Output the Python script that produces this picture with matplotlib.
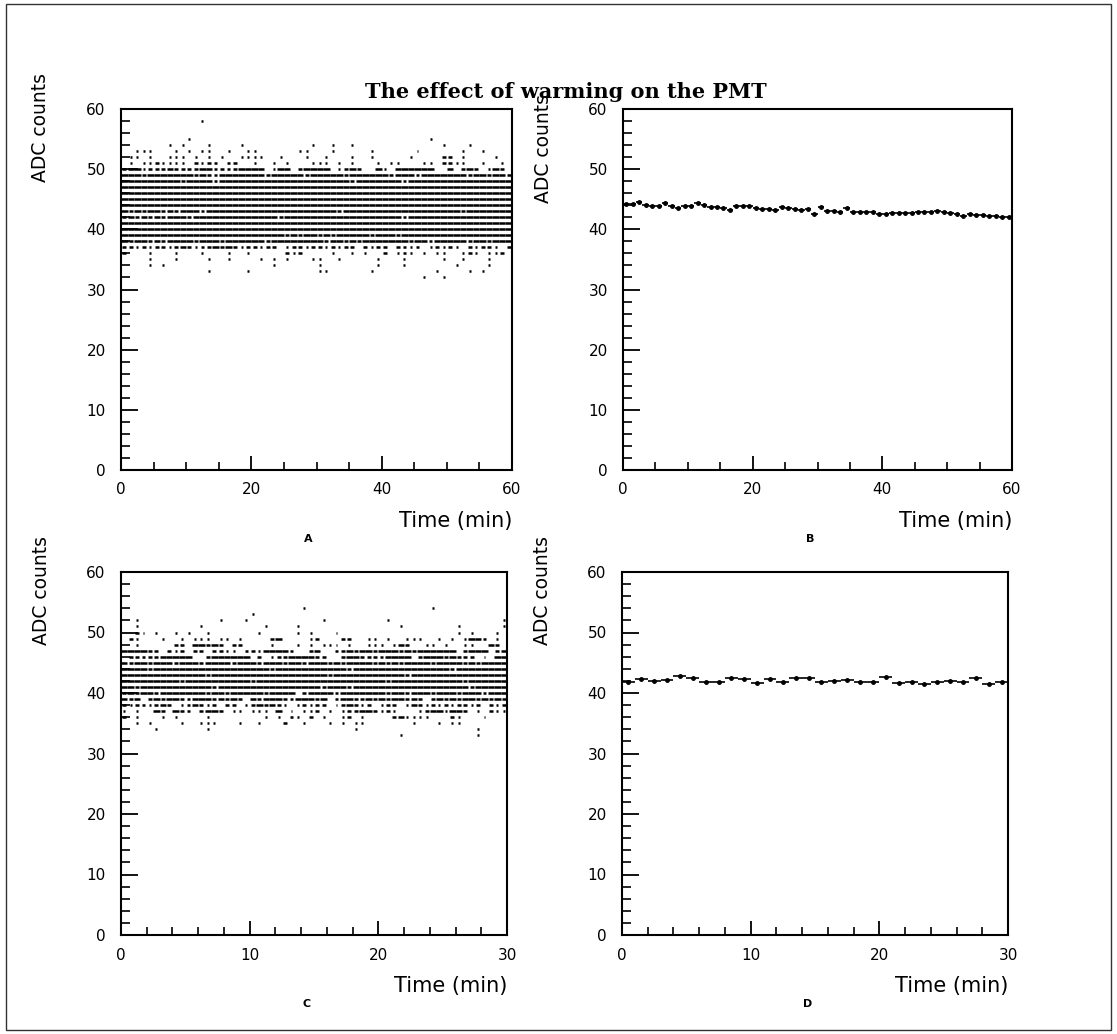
import matplotlib
matplotlib.use("Agg")
import matplotlib.pyplot as plt
from matplotlib.patches import Rectangle
from matplotlib.ticker import MultipleLocator

# Raw ADC hits, one row per integer ADC value.
# Each row has 60 time bins: ' ' no hit, '.' a single hit, '-' partly filled, '=' filled.
FULL = "=" * 60

a_levels = [58, 55, 54, 53, 52, 51, 50, 49, 48, 47, 46, 45, 44, 43, 42, 41,
            40, 39, 38, 37, 36, 35, 34, 33, 32]
a_rows = [
    "          |  .       |          |          |          |          ",
    "          |.         |          |          |       .  |          ",
    "       . .|   .    . |         .|  .  .    |         .|   .      ",
    "  ...   . |. ..  .  .|.      .. |  .     . |     .    |  .  .    ",
    " .. .  ...| . . .  ..|..  .   . | .   .  . |    .    -|- .    .  ",
    " . ..-....| -.-- --  |.  . .   .|.. . .   .| ..   .. -|-..  .  . ",
    "-==.---=--|--==----==|== .== -==|== .-=-  =|. ======  |= -=- .=- ",
    "===-======|=-=--=====|==-=====-=|====-=====|=-===-====|===-==-==-",
    "=========-|====-=====|==========|=====-====|===-======|==========",
    FULL, FULL, FULL, FULL,
    "=-=-==-=-=|==-=======|==========|===-======|==========|==-=======",
    "-=-=-=-===|-=========|====-=====|==========|===-======|==========",
    FULL, FULL,
    "==========|==========|=====-=-==|-=-=====-=|==-=======|==========",
    "=-==-=-===|=-===-====|==-=======|=-==-=-===|====-==-==|===-==-===",
    "--.-.--.-=|-.--=-=-.-|-.-- .--.-|-.-.-- -.-|- --.- .-.|-. -.--. -",
    "-   .   . |  .   .  .|     -.-  |  .  . .  |- .-. . ..|  .-. ..- ",
    "    .   . |   .  .   | . . .   .|.  .     .|   .     .|  .   .   ",
    "    . .   |          |   .      |.        .|   .      | .    .   ",
    "          |   .     .|          |..      . |        . |   . .    ",
    "          |          |          |          |      .  .|          ",
]

c_levels = [54, 53, 52, 51, 50, 49, 48, 47, 46, 45, 44, 43, 42, 41, 40,
            39, 38, 37, 36, 35, 34, 33]
c_rows = [
    "          |          |        . |          |        . |          ",
    "          |          |.         |          |          |          ",
    "  .       |     .   .|          | .        | .        |         .",
    "  .       |  .       |  .    .  |          |   .      |  .      .",
    "  -. .  . |.  .      | .     . .|   .      |          |  . .   . ",
    " -.   .  .| ... .. . |   -=    .|-   --  ..| .  ...  .| . .==- . ",
    "  .     --| ==-=- -- |   .   . .| ... .  ..|. .=-  .. |.  ..  =- ",
    "====-- -.-| -- --.. -|-.====-  -|=  --=-==-|===-=-====|== -=== -=",
    " -----====|=  -======| - .--====|--  -==---|-==== -===|-=--- . ==",
    "=-==-===-=|==-====-==|=-===-==-=|==-=-====-|=-=-====-=|===-=-====",
    "====-=====|==========|===-======|=====-====|==========|=-========",
    "==========|===-======|==========|==-=======|====-=====|==========",
    "=========-|==========|-=========|==========|=-========|===-======",
    "==-=======|====-=====|==========|=-===-====|==========|====-=====",
    "-=-==-====|===-==-===|==-==== -=|===-======|=-==-===-=|==-===-===",
    "=-= -=-==-|-===-=-=- |=-===--===|-= -==--=-|=-==-=- -=|-=-==-=-=-",
    "-.--.-=- .|-=-.- -- .|-=-=-. .-.|-- .-=-.- |.-- .=-.-.|-.--.- -.-",
    ". .  =- =-|- -==- .. |... = . ..|- . .--==-|.-.   .-==|.==- . -..",
    "- .   . . |   .      |  . . -. -| .  .- .  |  -=....  | -.   .   ",
    "  . .    .|  ...   . | .   -  . |  . . ..  |     .   .| ..       ",
    "     .    |   .      |          |      .   |          |     .    ",
    "          |          |          |          |   .      |     .    ",
]

# Profile of the same runs: mean ADC per 1-minute bin
b_time = [i + 0.5 for i in range(60)]
b_mean = [44.2, 44.2, 44.5, 44.0, 43.8, 43.8, 44.3, 43.9, 43.5, 43.8,
          43.9, 44.4, 44.1, 43.7, 43.7, 43.6, 43.2, 43.8, 43.8, 43.9,
          43.5, 43.4, 43.3, 43.2, 43.7, 43.5, 43.3, 43.2, 43.3, 42.5,
          43.7, 43.1, 43.0, 42.9, 43.5, 42.8, 42.8, 42.9, 42.9, 42.5,
          42.5, 42.7, 42.7, 42.7, 42.7, 42.9, 42.9, 42.9, 43.0, 42.9,
          42.7, 42.5, 42.2, 42.5, 42.4, 42.3, 42.2, 42.2, 42.1, 42.0]

d_time = [i + 0.5 for i in range(30)]
d_mean = [41.9, 42.3, 42.0, 42.2, 42.8, 42.4, 41.9, 41.9, 42.4, 42.3,
          41.7, 42.3, 41.9, 42.4, 42.4, 41.8, 42.0, 42.2, 41.9, 41.8,
          42.6, 41.7, 41.9, 41.5, 41.9, 42.0, 41.8, 42.5, 41.5, 41.9]

W, H = 1117, 1034
plt.rcParams['font.family'] = ['DejaVu Sans']

fig = plt.figure(figsize=(W / 100, H / 100), dpi=100)


def box(l, r, t, b):
    return [l / W, 1 - b / H, (r - l) / W, (b - t) / H]


def draw_hits(ax, levels, rows, t_max):
    nbin = 60
    w = t_max / nbin
    frac = {'.': 0.3, '-': 0.6, '=': 1.0}
    for lev, row in zip(levels, rows):
        cells = row.replace('|', '').ljust(nbin)[:nbin]
        x0, x1 = [], []
        for i, c in enumerate(cells):
            if c in frac:
                mid = (i + 0.5) * w
                half = frac[c] * w / 2
                x0.append(mid - half)
                x1.append(mid + half)
        ax.hlines([lev] * len(x0), x0, x1, colors='k', lw=1.8, capstyle='butt')


def style(ax, t_max, x_major, x_minor, letter, ylab_y=0.95):
    ax.set_xlim(0, t_max)
    ax.set_ylim(0, 60)
    ax.xaxis.set_major_locator(MultipleLocator(x_major))
    ax.xaxis.set_minor_locator(MultipleLocator(x_minor))
    ax.yaxis.set_major_locator(MultipleLocator(10))
    ax.yaxis.set_minor_locator(MultipleLocator(2))
    ax.tick_params(axis='y', which='major', direction='in', length=12, width=1.3,
                   pad=11, labelsize=11, right=False)
    ax.tick_params(axis='y', which='minor', direction='in', length=6.5, width=1.2, right=False)
    ax.tick_params(axis='x', which='major', direction='in', length=10, width=1.3,
                   pad=9, labelsize=11, top=False)
    ax.tick_params(axis='x', which='minor', direction='in', length=6, width=1.2, top=False)
    for sp in ax.spines.values():
        sp.set_linewidth(1.5)
    ax.text(-0.205, ylab_y, 'ADC counts', transform=ax.transAxes, rotation=90,
            ha='center', va='center', fontsize=13.5)
    ax.text(1.0, -0.141, 'Time (min)', transform=ax.transAxes,
            ha='right', va='center', fontsize=15)
    ax.text(0.48, -0.19, letter, transform=ax.transAxes,
            ha='center', va='center', fontsize=8, fontweight='bold')


axA = fig.add_axes(box(121, 512, 109, 470))
axB = fig.add_axes(box(623, 1012, 109, 470))
axC = fig.add_axes(box(121, 507, 572, 935))
axD = fig.add_axes(box(622, 1008, 572, 935))

draw_hits(axA, a_levels, a_rows, 60)
draw_hits(axC, c_levels, c_rows, 30)

for ax, t, m, bw in [(axB, b_time, b_mean, 0.5), (axD, d_time, d_mean, 0.5)]:
    ax.errorbar(t, m, xerr=bw, fmt='o', color='k', ms=2.5, elinewidth=1.2,
                capsize=0)

style(axA, 60, 20, 5, 'A')
style(axB, 60, 20, 5, 'B', ylab_y=0.89)
style(axC, 30, 10, 2, 'C')
style(axD, 30, 10, 2, 'D')

fig.text(566 / W, 1 - 98 / H, 'The effect of warming on the PMT',
         ha='center', va='baseline', family='DejaVu Serif',
         fontweight='bold', fontsize=15)

# outer frame of the page
fig.patches.append(Rectangle((6 / W, 1 - 1030 / H), 1105 / W, 1026 / H,
                             transform=fig.transFigure, fill=False,
                             lw=1.0, ec='#333333'))

fig.savefig('out.png', dpi=100)
